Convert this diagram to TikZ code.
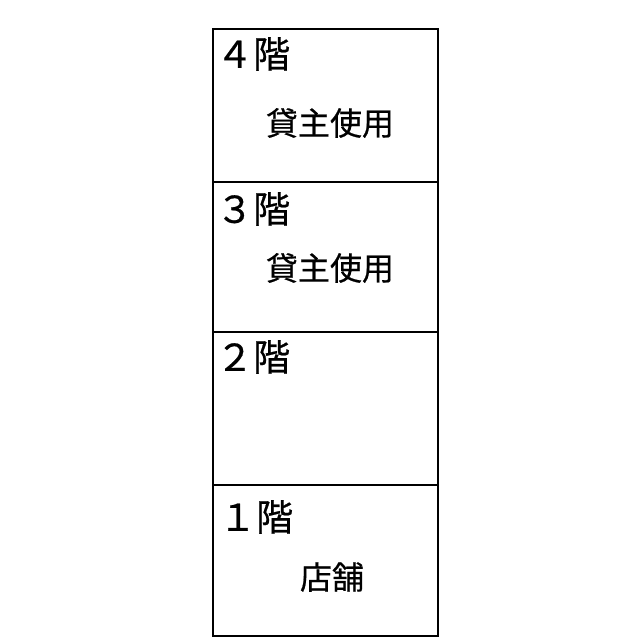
\documentclass[tikz,border=0pt]{standalone}
\usepackage{fontspec}
\setmainfont{Noto Sans CJK JP}[FakeBold=0.6]
\begin{document}
\begin{tikzpicture}[x=1pt,y=-1pt,
  floorbox/.style={draw=black,line width=1.3pt},
  floorlabel/.style={anchor=west,inner sep=0pt,font=\fontsize{37}{37}\selectfont},
  usage/.style={inner sep=0pt,font=\fontsize{32}{32}\selectfont}]
\useasboundingbox (0,0) rectangle (640,640);
\fill[white] (0,0) rectangle (640,640);
\draw[floorbox] (213,29) rectangle (438,636);
\draw[floorbox] (213,182) -- (438,182);
\draw[floorbox] (213,332) -- (438,332);
\draw[floorbox] (213,485) -- (438,485);
\node[floorlabel] (f4) at (216,54) {４階};
\node[usage] (u4) at (330,123) {貸主使用};
\node[floorlabel] (f3) at (216,209) {３階};
\node[usage] (u3) at (330,268) {貸主使用};
\node[floorlabel] (f2) at (216,357) {２階};
\node[floorlabel] (f1) at (219,517) {１階};
\node[usage] (u1) at (332,577) {店舗};
\end{tikzpicture}
\end{document}
